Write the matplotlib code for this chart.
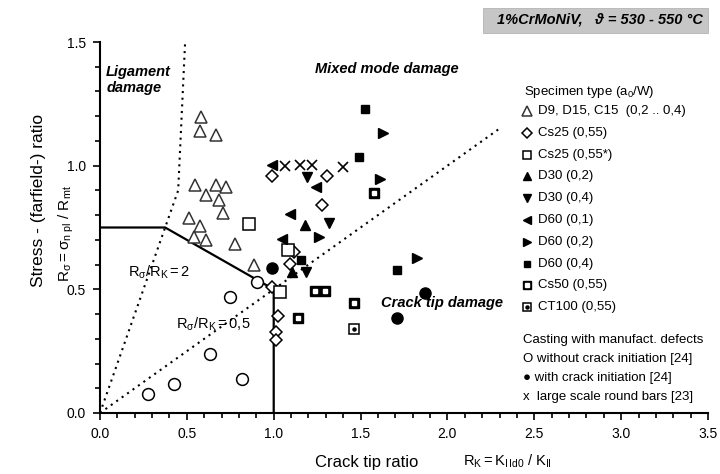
import numpy as np
import matplotlib.pyplot as plt
from matplotlib.patches import Rectangle
from matplotlib.ticker import MultipleLocator, FormatStrFormatter

plt.rcParams['font.family'] = ['Liberation Sans', 'DejaVu Sans']
plt.rcParams['mathtext.fontset'] = 'custom'
plt.rcParams['mathtext.rm'] = 'Liberation Sans'
plt.rcParams['mathtext.it'] = 'Liberation Sans:italic'

# R_K (crack tip ratio) and R_sigma (stress ratio) per specimen type
d9_x = [0.58, 0.575, 0.665, 0.547, 0.67, 0.726, 0.609, 0.687, 0.709, 0.514, 0.575, 0.542, 0.609, 0.777, 0.888]
d9_y = [1.198, 1.142, 1.126, 0.923, 0.923, 0.915, 0.883, 0.862, 0.81, 0.789, 0.757, 0.713, 0.70, 0.684, 0.599]
cs25_x = [0.989, 1.306, 1.277, 1.116, 1.092, 0.989, 1.023, 1.012, 1.012]
cs25_y = [0.96, 0.96, 0.842, 0.652, 0.603, 0.51, 0.393, 0.328, 0.296]
cs25s_x = [0.855, 1.081, 1.035]
cs25s_y = [0.765, 0.66, 0.49]
d30a_x = [1.179, 1.104]
d30a_y = [0.761, 0.571]
d30b_x = [1.191, 1.318, 1.185]
d30b_y = [0.955, 0.769, 0.571]
d60a_x = [0.99, 1.243, 1.092, 1.046]
d60a_y = [1.004, 0.915, 0.806, 0.704]
d60b_x = [1.63, 1.613, 1.26, 1.827]
d60b_y = [1.134, 0.947, 0.713, 0.628]
d60c_x = [1.526, 1.491, 1.711, 1.156]
d60c_y = [1.231, 1.036, 0.579, 0.619]
cs50_x = [1.237, 1.295, 1.139, 1.462, 1.578]
cs50_y = [0.494, 0.494, 0.385, 0.445, 0.891]
ct100_x = [1.462]
ct100_y = [0.34]
cast_open_x = [0.905, 0.749, 0.631, 0.816, 0.425, 0.274]
cast_open_y = [0.53, 0.47, 0.239, 0.138, 0.117, 0.077]
cast_fill_x = [0.989, 1.87, 1.711]
cast_fill_y = [0.587, 0.486, 0.385]
bars_x = [1.064, 1.15, 1.22, 1.399]
bars_y = [1.0, 1.004, 1.004, 0.996]

# damage region boundaries
limit_x = [0.0, 0.375, 1.0, 1.0]
limit_y = [0.75, 0.75, 0.5, 0.0]
ratio2_x = [0.0, 0.45, 0.49]
ratio2_y = [0.0, 0.9, 1.5]
ratio05_x = [0.0, 2.3]
ratio05_y = [0.0, 1.15]

W, H = 720, 474
fig = plt.figure(figsize=(W / 100, H / 100), dpi=100)
ax = fig.add_axes([100 / W, 1 - 413 / H, 608 / W, 371 / H])


def fx(px):
    return px / W


def fy(py):
    return 1 - py / H


ax.plot(limit_x, limit_y, color='black', lw=1.6, solid_joinstyle='miter')
ax.plot(ratio2_x, ratio2_y, color='black', lw=1.5, ls=(0, (1, 2.2)))
ax.plot(ratio05_x, ratio05_y, color='black', lw=1.5, ls=(0, (1, 2.2)))

styles = [
    ('D9, D15, C15  (0,2 .. 0,4)', d9_x, d9_y, dict(marker='^', mfc='white', mec='#333333', ms=8.5, mew=1.1)),
    ('Cs25 (0,55)', cs25_x, cs25_y, dict(marker='D', mfc='white', mec='black', ms=6, mew=1.1)),
    ('Cs25 (0,55*)', cs25s_x, cs25s_y, dict(marker='s', mfc='white', mec='black', ms=8, mew=1.1)),
    ('D30 (0,2)', d30a_x, d30a_y, dict(marker='^', mfc='black', mec='black', ms=7.5)),
    ('D30 (0,4)', d30b_x, d30b_y, dict(marker='v', mfc='black', mec='black', ms=7.5)),
    ('D60 (0,1)', d60a_x, d60a_y, dict(marker='<', mfc='black', mec='black', ms=7.5)),
    ('D60 (0,2)', d60b_x, d60b_y, dict(marker='>', mfc='black', mec='black', ms=7.5)),
    ('D60 (0,4)', d60c_x, d60c_y, dict(marker='s', mfc='black', mec='black', ms=6)),
    ('Cs50 (0,55)', cs50_x, cs50_y, dict(marker='s', mfc='black', mec='black', ms=7)),
    ('CT100 (0,55)', ct100_x, ct100_y, dict(marker='s', mfc='white', mec='black', ms=7.5, mew=1.1)),
]
inner = {
    'Cs50 (0,55)': dict(marker='s', mfc='white', mec='white', ms=2.2),
    'CT100 (0,55)': dict(marker='o', mfc='black', mec='black', ms=2.2),
}

for label, xs, ys, st in styles:
    ax.plot(xs, ys, ls='none', clip_on=False, **st)
    if label in inner:
        ax.plot(xs, ys, ls='none', clip_on=False, **inner[label])

ax.plot(cast_open_x, cast_open_y, ls='none', marker='o', mfc='white', mec='black', ms=8.5, mew=1.1)
ax.plot(cast_fill_x, cast_fill_y, ls='none', marker='o', mfc='black', mec='black', ms=8)
ax.plot(bars_x, bars_y, ls='none', marker='x', color='black', ms=7, mew=1.2)

ax.set_xlim(0, 3.5)
ax.set_ylim(0, 1.5)
ax.xaxis.set_major_locator(MultipleLocator(0.5))
ax.xaxis.set_minor_locator(MultipleLocator(0.1))
ax.yaxis.set_major_locator(MultipleLocator(0.5))
ax.yaxis.set_minor_locator(MultipleLocator(0.1))
ax.xaxis.set_major_formatter(FormatStrFormatter('%.1f'))
ax.yaxis.set_major_formatter(FormatStrFormatter('%.1f'))
ax.tick_params(which='both', direction='out', width=1.2, labelsize=10, pad=5)
ax.tick_params(which='major', length=5)
ax.tick_params(which='minor', length=3.5)
for s in ['top', 'right']:
    ax.spines[s].set_visible(False)
for s in ['left', 'bottom']:
    ax.spines[s].set_linewidth(1.5)

# region names and ratio annotations
region_font = dict(fontsize=10.5, fontweight='bold', style='italic')
ax.text(0.035, 1.345, 'Ligament\ndamage', va='center', ha='left', linespacing=1.2, **region_font)
ax.text(1.24, 1.39, 'Mixed mode damage', va='center', ha='left', **region_font)
ax.text(1.62, 0.445, 'Crack tip damage', va='center', ha='left', **region_font)
ax.text(0.16, 0.57, r'$\mathregular{R_\sigma/R_K = 2}$', va='center', ha='left', fontsize=10.5)
ax.text(0.44, 0.36, r'$\mathregular{R_\sigma/R_K = 0{,}5}$', va='center', ha='left', fontsize=10.5)

# axis labels
fig.text(fx(418), fy(463), 'Crack tip ratio', ha='right', va='center', fontsize=12)
fig.text(fx(463), fy(461), r'$\mathregular{R_K = K_{I\,Id0}\ /\ K_{II}}$', ha='left', va='center', fontsize=10.5)
fig.text(fx(38), fy(287), 'Stress - (farfield-) ratio', rotation=90, rotation_mode='anchor',
         ha='left', va='center', fontsize=12.5)
fig.text(fx(66), fy(282), r'$\mathregular{R_\sigma = \sigma_{n\ pl}\ /\ R_{mt}}$', rotation=90,
         rotation_mode='anchor', ha='left', va='center', fontsize=11)

# title box
fig.patches.append(Rectangle((fx(483), fy(33)), fx(708) - fx(483), fy(8) - fy(33),
                             transform=fig.transFigure, facecolor='#c6c6c6', edgecolor='#b4b4b4', lw=0.6))
fig.text(fx(600), fy(20), '1%CrMoNiV,   ϑ = 530 - 550 °C', ha='center', va='center', fontsize=10.5,
         fontweight='bold', style='italic')

# legend drawn by hand
leg_fs = 9.5
fig.text(fx(524), fy(92), 'Specimen type (a$_\\mathregular{0}$/W)', ha='left', va='center', fontsize=leg_fs)
row0, step = 111, 21.8
for i, (label, xs, ys, st) in enumerate(styles):
    py = row0 + i * step
    st_leg = dict(st)
    st_leg['ms'] = st['ms'] * 0.8
    ax.plot([fx(527)], [fy(py)], ls='none', transform=fig.transFigure, clip_on=False, **st_leg)
    if label in inner:
        ax.plot([fx(527)], [fy(py)], ls='none', transform=fig.transFigure, clip_on=False, **inner[label])
    fig.text(fx(538), fy(py), label, ha='left', va='center', fontsize=leg_fs)

cast_lines = ['Casting with manufact. defects', 'O without crack initiation [24]',
              '\u25cf with crack initiation [24]', 'x  large scale round bars [23]']
for i, t in enumerate(cast_lines):
    fig.text(fx(523), fy(340 + i * 19), t, ha='left', va='center', fontsize=leg_fs)

fig.savefig('out.png', dpi=100)
